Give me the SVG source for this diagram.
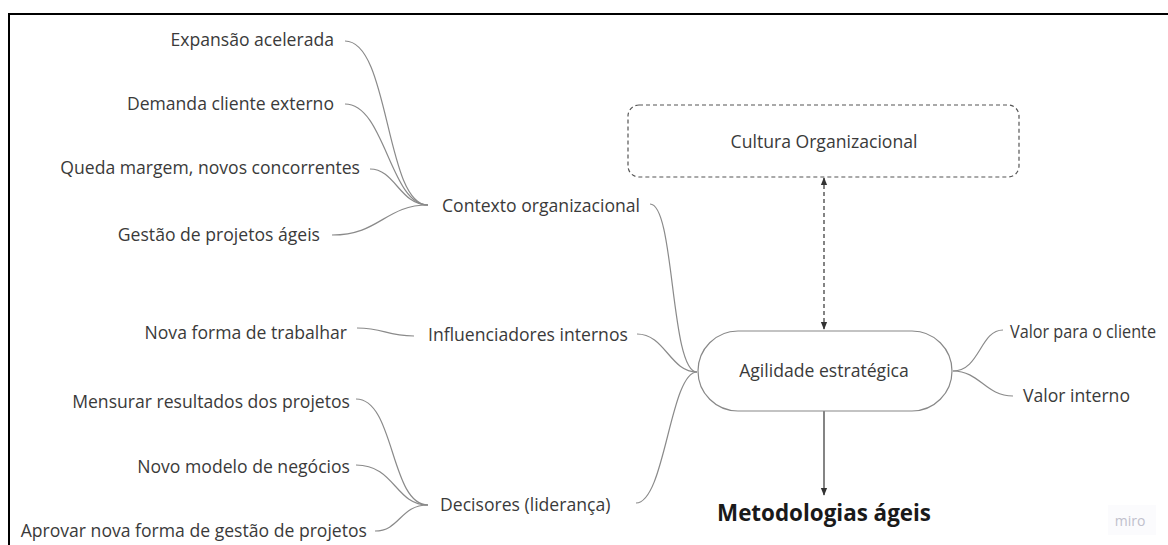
<svg xmlns="http://www.w3.org/2000/svg" width="1168" height="545" viewBox="0 0 1168 545">
<defs>
<style>
.t{font-family:"Open Sans","Noto Sans",sans-serif;font-size:17.6px;fill:#3a3a3a}
.e{text-anchor:end}
.m{text-anchor:middle}
.c{fill:none;stroke:#8a8a8a;stroke-width:1.2}
.b{font-family:"Open Sans","Noto Sans",sans-serif;font-size:22.4px;font-weight:bold;fill:#1a1a1a;text-anchor:middle}
</style>
<marker id="ah" viewBox="0 0 10 10" refX="9" refY="5" markerWidth="8" markerHeight="8" markerUnits="userSpaceOnUse" orient="auto-start-reverse">
<path d="M0 1 L10 5 L0 9 z" fill="#333"/>
</marker>
</defs>
<rect width="1168" height="545" fill="#fff"/>
<path d="M9 545 V14 H1168" fill="none" stroke="#000" stroke-width="2"/>
<g id="connectors">
<path class="c" d="M345 41 C390 41 385 205 428 205"/>
<path class="c" d="M345 104 C385 104 390 205 428 205"/>
<path class="c" d="M370 169 C395 169 400 205 428 205"/>
<path class="c" d="M332 235 C380 235 385 205 428 205"/>
<path class="c" d="M650 204 C675 204 670 372 697 372"/>
<path class="c" d="M357 328 C385 328 385 336 414 336"/>
<path class="c" d="M637 334 C665 334 670 372 697 372"/>
<path class="c" d="M636 503 C665 503 670 372 697 372"/>
<path class="c" d="M356 399 C395 399 390 505 428 505"/>
<path class="c" d="M356 465 C395 465 395 505 428 505"/>
<path class="c" d="M375 531 C400 531 400 505 428 505"/>
<path class="c" d="M953 371 C980 371 980 330 1003 330"/>
<path class="c" d="M953 371 C980 371 985 396 1013 396"/>
<path d="M824 178 V329" fill="none" stroke="#333" stroke-width="1.2" stroke-dasharray="4 3" marker-start="url(#ah)" marker-end="url(#ah)"/>
<path d="M824 411 V495" fill="none" stroke="#333" stroke-width="1.2" marker-end="url(#ah)"/>
</g>
<g id="n-expansao"><text class="t e" x="334" y="46">Expansão acelerada</text></g>
<g id="n-demanda"><text class="t e" x="334" y="110">Demanda cliente externo</text></g>
<g id="n-queda"><text class="t e" x="360" y="174">Queda margem, novos concorrentes</text></g>
<g id="n-gestao"><text class="t e" x="320" y="241">Gestão de projetos ágeis</text></g>
<g id="n-contexto"><text class="t" x="442" y="212">Contexto organizacional</text></g>
<g id="n-nova"><text class="t e" x="347" y="339">Nova forma de trabalhar</text></g>
<g id="n-influenciadores"><text class="t" x="428" y="341">Influenciadores internos</text></g>
<g id="n-mensurar"><text class="t e" x="350" y="408">Mensurar resultados dos projetos</text></g>
<g id="n-novo"><text class="t e" x="350" y="473">Novo modelo de negócios</text></g>
<g id="n-aprovar"><text class="t e" x="367" y="537">Aprovar nova forma de gestão de projetos</text></g>
<g id="n-decisores"><text class="t" x="440" y="511">Decisores (liderança)</text></g>
<g id="n-cultura">
<rect x="628" y="105" width="391" height="72" rx="11" fill="#fff" stroke="#555" stroke-width="1.2" stroke-dasharray="4 3"/>
<text class="t m" x="824" y="148">Cultura Organizacional</text>
</g>
<g id="n-agilidade">
<rect x="698" y="331" width="254" height="80" rx="40" fill="#fff" stroke="#888" stroke-width="1.2"/>
<text class="t m" x="824" y="377">Agilidade estratégica</text>
</g>
<g id="n-valor-cliente"><text class="t" x="1010" y="338" textLength="146" lengthAdjust="spacingAndGlyphs">Valor para o cliente</text></g>
<g id="n-valor-interno"><text class="t" x="1023" y="402">Valor interno</text></g>
<g id="n-metodologias"><text class="b" x="824" y="521">Metodologias ágeis</text></g>
<g id="watermark">
<rect x="1108" y="505" width="48" height="30" fill="#fbfbfd"/>
<text x="1130" y="526" font-family="Open Sans, sans-serif" font-size="14" fill="#c0c0cc" text-anchor="middle">miro</text>
</g>
</svg>
